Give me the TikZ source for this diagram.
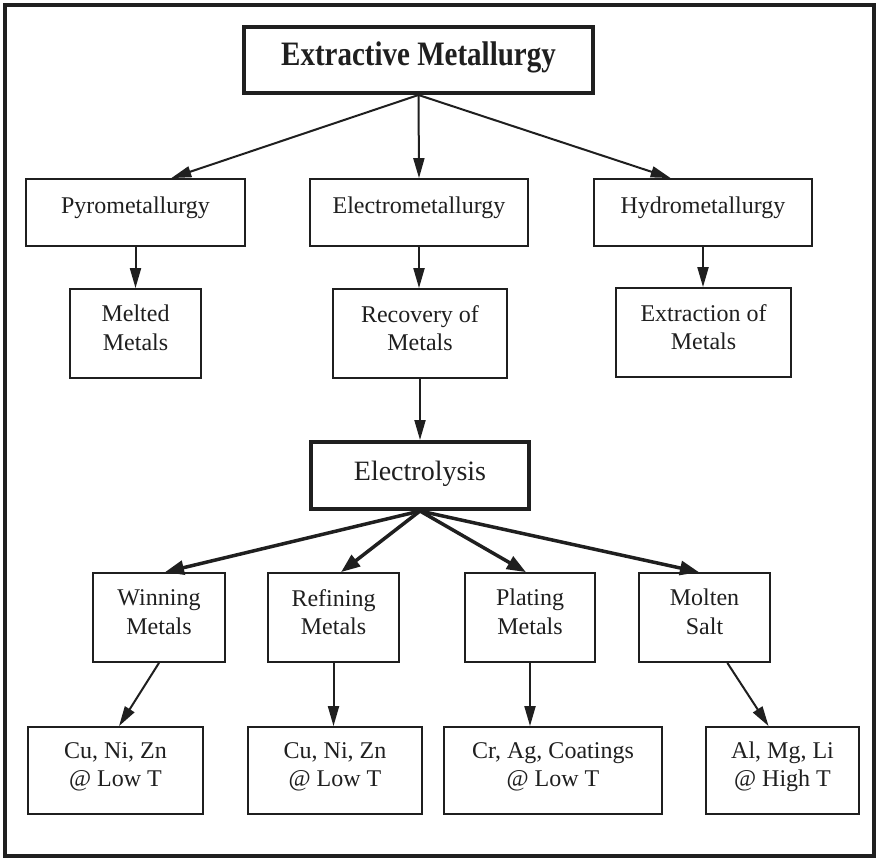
\documentclass[tikz,border=0pt]{standalone}
\usepackage{fontspec}
\setmainfont{Liberation Serif}
\usetikzlibrary{arrows.meta,calc}
\colorlet{ink}{black!88}
\begin{document}
\begin{tikzpicture}[x=1pt,y=-1pt,
  box/.style={draw=ink, line width=1.8pt, inner sep=0pt, fill=white},
  thickbox/.style={box, line width=4pt},
  lbl/.style={align=center, font=\fontsize{24}{28.5}\selectfont, text=ink},
  arr/.style={draw=ink, line width=2pt, -{Triangle[length=20pt,width=11pt]}},
  tarr/.style={draw=ink, line width=3.5pt, -{Triangle[length=19pt,width=14pt]}},
]
\useasboundingbox (0,0) rectangle (877,858);
\draw[ink, line width=3.5pt] (5,5) rectangle (874,856);

% level 1
\node[thickbox, minimum width=349pt, minimum height=66pt,
  label={[lbl, yshift=3pt, font=\fontsize{29}{34}\selectfont\bfseries]center:\scalebox{1}[1.18]{Extractive Metallurgy}}] (top) at (418.5,60) {};

% level 2
\node[box, minimum width=219pt, minimum height=67pt, label={[lbl, yshift=5pt]center:Pyrometallurgy}] (pyro) at (135.5,212.5) {};
\node[box, minimum width=218pt, minimum height=67pt, label={[lbl, yshift=5pt]center:Electrometallurgy}] (electro) at (419,212.5) {};
\node[box, minimum width=218pt, minimum height=67pt, label={[lbl, yshift=5pt]center:Hydrometallurgy}] (hydro) at (703,212.5) {};

% level 3
\node[box, minimum width=131pt, minimum height=89pt, label={[lbl, yshift=5.5pt]center:Melted\\Metals}] (melted) at (135.5,333.5) {};
\node[box, minimum width=174pt, minimum height=89pt, label={[lbl, yshift=5.5pt]center:Recovery of\\Metals}] (recovery) at (420,333.5) {};
\node[box, minimum width=175pt, minimum height=89pt, label={[lbl, yshift=5.5pt]center:Extraction of\\Metals}] (extraction) at (703.5,332.5) {};

% electrolysis
\node[thickbox, minimum width=218pt, minimum height=67pt,
  label={[lbl, yshift=1.5pt, font=\fontsize{28}{33}\selectfont]center:Electrolysis}] (electrolysis) at (420,475.5) {};

% level 4
\node[box, minimum width=132pt, minimum height=89pt, label={[lbl, yshift=5.5pt]center:Winning\\Metals}] (winning) at (159,617.5) {};
\node[box, minimum width=131pt, minimum height=89pt, label={[lbl, yshift=5.5pt]center:Refining\\Metals}] (refining) at (333.5,617.5) {};
\node[box, minimum width=130pt, minimum height=89pt, label={[lbl, yshift=5.5pt]center:Plating\\Metals}] (plating) at (530,617.5) {};
\node[box, minimum width=131pt, minimum height=89pt, label={[lbl, yshift=5.5pt]center:Molten\\Salt}] (molten) at (704.5,617.5) {};

% level 5
\node[box, minimum width=175pt, minimum height=87pt, label={[lbl, yshift=3.5pt]center:Cu, Ni, Zn\\@ Low T}] (cu1) at (115.5,770.5) {};
\node[box, minimum width=174pt, minimum height=87pt, label={[lbl, yshift=3.5pt]center:Cu, Ni, Zn\\@ Low T}] (cu2) at (335,770.5) {};
\node[box, minimum width=218pt, minimum height=87pt, label={[lbl, yshift=3.5pt]center:Cr, Ag, Coatings\\@ Low T}] (cr) at (553,770.5) {};
\node[box, minimum width=153pt, minimum height=87pt, label={[lbl, yshift=3.5pt]center:Al, Mg, Li\\@ High T}] (al) at (782.5,770.5) {};

% connectors
\draw[arr] (top.south) -- ($(pyro.north west)!0.662!(pyro.north east)$);
\draw[arr] (top.south) -- (electro.north);
\draw[arr] (top.south) -- ($(hydro.north west)!0.353!(hydro.north east)$);

\draw[arr] (pyro.south) -- (melted.north);
\draw[arr] (electro.south) -- (electro.south |- recovery.north);
\draw[arr] (hydro.south) -- (hydro.south |- extraction.north);

\draw[arr] (recovery.south) -- (electrolysis.north);

\draw[tarr] (electrolysis.south) -- ($(winning.north west)!0.545!(winning.north east)$);
\draw[tarr] (electrolysis.south) -- ($(refining.north west)!0.557!(refining.north east)$);
\draw[tarr] (electrolysis.south) -- ($(plating.north west)!0.469!(plating.north east)$);
\draw[tarr] (electrolysis.south) -- ($(molten.north west)!0.458!(molten.north east)$);

\draw[arr] (winning.south) -- ($(cu1.north west)!0.52!(cu1.north east)$);
\draw[arr] (refining.south) -- (refining.south |- cu2.north);
\draw[arr] (plating.south) -- (plating.south |- cr.north);
\draw[arr] ($(molten.south west)!0.672!(molten.south east)$) -- ($(al.north west)!0.41!(al.north east)$);
\end{tikzpicture}
\end{document}
